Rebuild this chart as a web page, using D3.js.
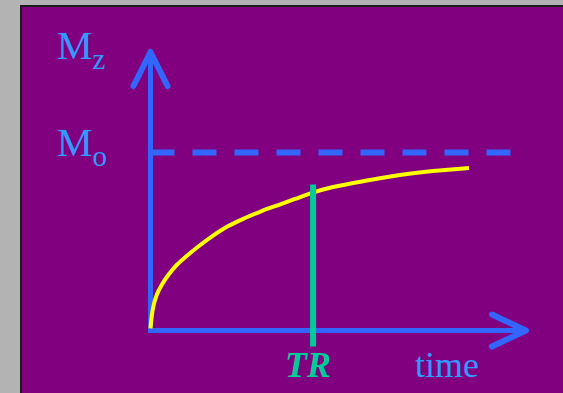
<!DOCTYPE html>
<html lang="en">
<head>
    <meta charset="UTF-8">
    <title>Mz recovery vs time</title>
    <script src="https://d3js.org/d3.v7.min.js"></script>
    <style>
        body { margin: 0; background: #b3b3b3; }
        svg { display: block; }
        text { font-family: "Liberation Serif", "Times New Roman", serif; }
    </style>
</head>
<body>
    <svg id="Mz_Chart" width="563" height="393"></svg>
    <script>
        // curve: time (arbitrary units) vs Mz / Mo
        const curveTime = [0, 0.32, 0.75, 1.65, 2.98, 4.74, 6.98, 9.64, 12.73, 16.3, 20.72, 25.17, 29.61, 34.04, 38.48, 43.28, 48.61, 57.66, 66.44, 75.23, 84.82];
        const curveMz   = [0.012, 0.078, 0.134, 0.2, 0.256, 0.312, 0.368, 0.4185, 0.472, 0.528, 0.587, 0.632, 0.671, 0.705, 0.739, 0.775, 0.806, 0.843, 0.874, 0.896, 0.913];
        const moValue = 1;
        const moLineEnd = 96.2;
        const trValue = 43.3;
        const trTop = 0.82;
        const timeMax = 100;
        const mzMax = 1.565;

        const svg = d3.select("#Mz_Chart");

        // slide panel
        svg.append("rect")
            .attr("x", 21).attr("y", 6)
            .attr("width", 620).attr("height", 420)
            .style("fill", "#800080")
            .style("stroke", "#1c1c1c")
            .style("stroke-width", 2);

        const x = d3.scaleLinear().domain([0, timeMax]).range([150.5, 526]);
        const y = d3.scaleLinear().domain([0, mzMax]).range([330.5, 52]);

        const axisColor = "#3366ff";
        const g = svg.append("g");

        // y axis with arrow head
        g.append("line")
            .attr("x1", x(0)).attr("x2", x(0))
            .attr("y1", y(0) + 2.5).attr("y2", y(mzMax) + 2)
            .style("stroke", axisColor).style("stroke-width", 5);
        g.append("path")
            .attr("d", `M${x(0) - 17},${y(mzMax) + 34} L${x(0)},${y(mzMax)} L${x(0) + 17},${y(mzMax) + 34}`)
            .style("fill", "none").style("stroke", axisColor)
            .style("stroke-width", 6).style("stroke-linecap", "round").style("stroke-linejoin", "round");

        // x axis with arrow head
        g.append("line")
            .attr("x1", x(0)).attr("x2", x(timeMax) - 2)
            .attr("y1", y(0)).attr("y2", y(0))
            .style("stroke", axisColor).style("stroke-width", 5);
        g.append("path")
            .attr("d", `M${x(timeMax) - 34},${y(0) - 16} L${x(timeMax)},${y(0)} L${x(timeMax) - 34},${y(0) + 16}`)
            .style("fill", "none").style("stroke", axisColor)
            .style("stroke-width", 6).style("stroke-linecap", "round").style("stroke-linejoin", "round");

        // Mo dashed level
        g.append("line")
            .attr("x1", x(0)).attr("x2", x(moLineEnd))
            .attr("y1", y(moValue)).attr("y2", y(moValue))
            .style("stroke", axisColor).style("stroke-width", 6)
            .style("stroke-dasharray", "24,18");

        // recovery curve
        const curveData = curveTime.map((t, i) => ({ t: t, m: curveMz[i] }));
        g.append("path")
            .datum(curveData)
            .attr("d", d3.line().x(d => x(d.t)).y(d => y(d.m)).curve(d3.curveCatmullRom.alpha(0.5)))
            .style("fill", "none")
            .style("stroke", "#ffff00")
            .style("stroke-width", 4);

        // TR marker
        g.append("line")
            .attr("x1", x(trValue)).attr("x2", x(trValue))
            .attr("y1", y(trTop)).attr("y2", y(0) + 16)
            .style("stroke", "#00cc99").style("stroke-width", 6);

        // labels
        const labelColor = "#3399ff";
        const mz = svg.append("text").attr("x", 57).attr("y", 59)
            .style("fill", labelColor).style("font-size", "40px");
        mz.append("tspan").text("M");
        mz.append("tspan").attr("dy", 10).style("font-size", "29px").text("z");

        const mo = svg.append("text").attr("x", 57).attr("y", 156)
            .style("fill", labelColor).style("font-size", "40px");
        mo.append("tspan").text("M");
        mo.append("tspan").attr("dy", 10).style("font-size", "29px").text("o");

        svg.append("text")
            .attr("x", x(trValue)).attr("dx", -5).attr("y", 377)
            .attr("text-anchor", "middle")
            .style("fill", "#00cc99")
            .style("font-size", "36px")
            .style("font-weight", "bold")
            .style("font-style", "italic")
            .text("TR");

        svg.append("text")
            .attr("x", 415).attr("y", 377)
            .style("fill", labelColor)
            .style("font-size", "36px")
            .text("time");
    </script>
</body>
</html>
